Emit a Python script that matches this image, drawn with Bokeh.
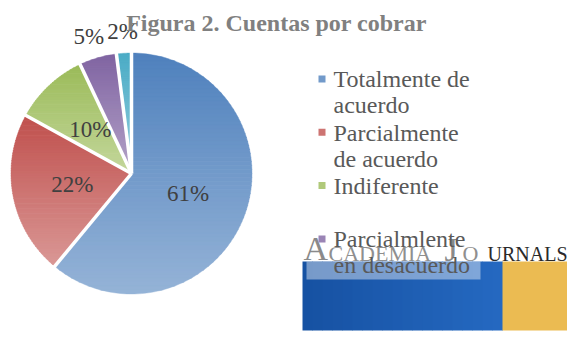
import numpy as np
from bokeh.plotting import figure
from bokeh.models import Range1d
from bokeh.embed import file_html
from bokeh.resources import INLINE
from bokeh.core.properties import value

# ---- data ----
categories = ["Totalmente de acuerdo", "Parcialmente de acuerdo", "Indiferente",
              "Parcialmlente en desacuerdo", "Totalmente en desacuerdo"]
shares = [61, 22, 10, 5, 2]
top_colors = ["#4F81BD", "#C0504D", "#9BBB59", "#8064A2", "#4BACC6"]
bottom_colors = ["#95B3D7", "#DA9896", "#C4D79C", "#B4A3C8", "#93CDDD"]
legend_lines = [["Totalmente de", "acuerdo"], ["Parcialmente", "de acuerdo"],
                ["Indiferente"], ["Parcialmlente", "en desacuerdo"]]
title = "Figura 2. Cuentas por cobrar"

W, H = 567, 337
SERIF = value("Liberation Serif")
MID = 0.34  # distance from baseline to em-box middle, in ems

p = figure(width=W, height=H, output_backend="svg", toolbar_location=None,
           x_range=Range1d(0, W), y_range=Range1d(H, 0), min_border=0)
p.axis.visible = False
p.grid.visible = False
p.outline_line_color = None
p.background_fill_color = "white"
p.border_fill_color = "white"


def label(x, y_base, txt, size, color, align="left", style="normal"):
    """Place text by its baseline using a middle anchor."""
    xs = x if isinstance(x, list) else [x]
    ys = y_base if isinstance(y_base, list) else [y_base]
    ts = txt if isinstance(txt, list) else [txt]
    p.text(xs, [y - MID * size for y in ys], text=ts, text_font=SERIF,
           text_font_size=f"{size}px", text_font_style=style, text_color=color,
           text_align=align, text_baseline="middle")


# ---- pie geometry (pixel space, y grows downward, angles clockwise from top) ----
cx, cy, R = 131.0, 173.0, 120.5


def pt(theta, r):
    return cx + r * np.sin(theta), cy - r * np.cos(theta)


def hex2rgb(h):
    h = h.lstrip("#")
    return np.array([int(h[i:i + 2], 16) for i in (0, 2, 4)], dtype=float)


def rgb2hex(c):
    return "#%02x%02x%02x" % tuple(int(round(v)) for v in c)


def clip_y(poly, y0, keep_greater):
    out = []
    n = len(poly)
    for i in range(n):
        a, b = poly[i], poly[(i + 1) % n]
        ina = a[1] >= y0 if keep_greater else a[1] <= y0
        inb = b[1] >= y0 if keep_greater else b[1] <= y0
        if ina:
            out.append(a)
        if ina != inb:
            t = (y0 - a[1]) / (b[1] - a[1])
            out.append((a[0] + t * (b[0] - a[0]), y0))
    return out


total = float(sum(shares))
bounds = np.concatenate([[0.0], np.cumsum(shares) / total]) * 2 * np.pi

# each slice gets a vertical gradient over its own bounding box
xs_all, ys_all, cols_all = [], [], []
for k, s in enumerate(shares):
    a0, a1 = bounds[k], bounds[k + 1]
    th = np.linspace(a0, a1, max(8, int(200 * (a1 - a0) / (2 * np.pi)) + 8))
    px, py = pt(th, R)
    poly = [(cx, cy)] + list(zip(px, py))
    ys = [q[1] for q in poly]
    ylo, yhi = min(ys), max(ys)
    nb = 60
    c0, c1 = hex2rgb(top_colors[k]), hex2rgb(bottom_colors[k])
    edges = np.linspace(ylo, yhi, nb + 1)
    for b in range(nb):
        band = clip_y(poly, edges[b] - 0.3, True)
        if len(band) < 3:
            continue
        band = clip_y(band, edges[b + 1] + 0.3, False)
        if len(band) < 3:
            continue
        t = (b + 0.5) / nb
        xs_all.append([q[0] for q in band])
        ys_all.append([q[1] for q in band])
        cols_all.append(rgb2hex(c0 + (c1 - c0) * t))

p.patches(xs_all, ys_all, fill_color=cols_all, line_color=cols_all, line_width=0.4)

# white separators between slices
for a in bounds[:-1]:
    ex, ey = pt(a, R + 2)
    p.line([cx, ex], [cy, ey], line_color="white", line_width=3.5)

# ---- data labels ----
for k, s in enumerate(shares):
    mid = 0.5 * (bounds[k] + bounds[k + 1])
    r = R * 0.5 if s >= 8 else R + 22
    lx, ly = pt(mid, r)
    if s < 8:
        lx -= 3 if s >= 4 else 0
    p.text([lx], [ly], text=[f"{s}%"], text_font=SERIF, text_font_size="23px",
           text_color="#404040", text_align="center", text_baseline="middle")

# ---- title ----
label(276, 31, title, 24, "#808080", align="center", style="bold")

# ---- logo block ----
blue_l, blue_r = hex2rgb("#1651a2"), hex2rgb("#2569c1")
nstrip = 20
sx = np.linspace(302, 502, nstrip + 1)
p.quad(left=list(sx[:-1]), right=list(sx[1:] + 0.5), top=[261] * nstrip,
       bottom=[330] * nstrip,
       fill_color=[rgb2hex(blue_l + (blue_r - blue_l) * (i + 0.5) / nstrip) for i in range(nstrip)],
       line_color=None)
p.quad(left=[502], right=[567], top=[261], bottom=[330], fill_color="#ebbb52",
       line_color=None)
p.quad(left=[306], right=[480], top=[261], bottom=[279], fill_color="#ffffff",
       fill_alpha=0.42, line_color=None)
label(303, 260, "A", 34, "#8a8a8a")
label(328, 260, "CADEMIA", 22, "#8f8f8f")
label(444, 261, "J", 34, "#8a8a8a")
label(462, 260, "O", 22, "#8f8f8f")
label(487, 260, "URNALS", 20, "#2a2a2a")

# ---- legend ----
first_base, item_pitch, line_pitch = 87, 53.3, 26
for k, lines in enumerate(legend_lines):
    base = first_base + k * item_pitch
    p.quad(left=[318], right=[325], top=[base - 12], bottom=[base - 5],
           fill_color=[rgb2hex(0.5 * (hex2rgb(top_colors[k]) + hex2rgb(bottom_colors[k])))],
           line_color=None)
    label([333] * len(lines), [base + j * line_pitch for j in range(len(lines))],
          lines, 24, "#595959")

open("out.html", "w").write(file_html(p, INLINE))
